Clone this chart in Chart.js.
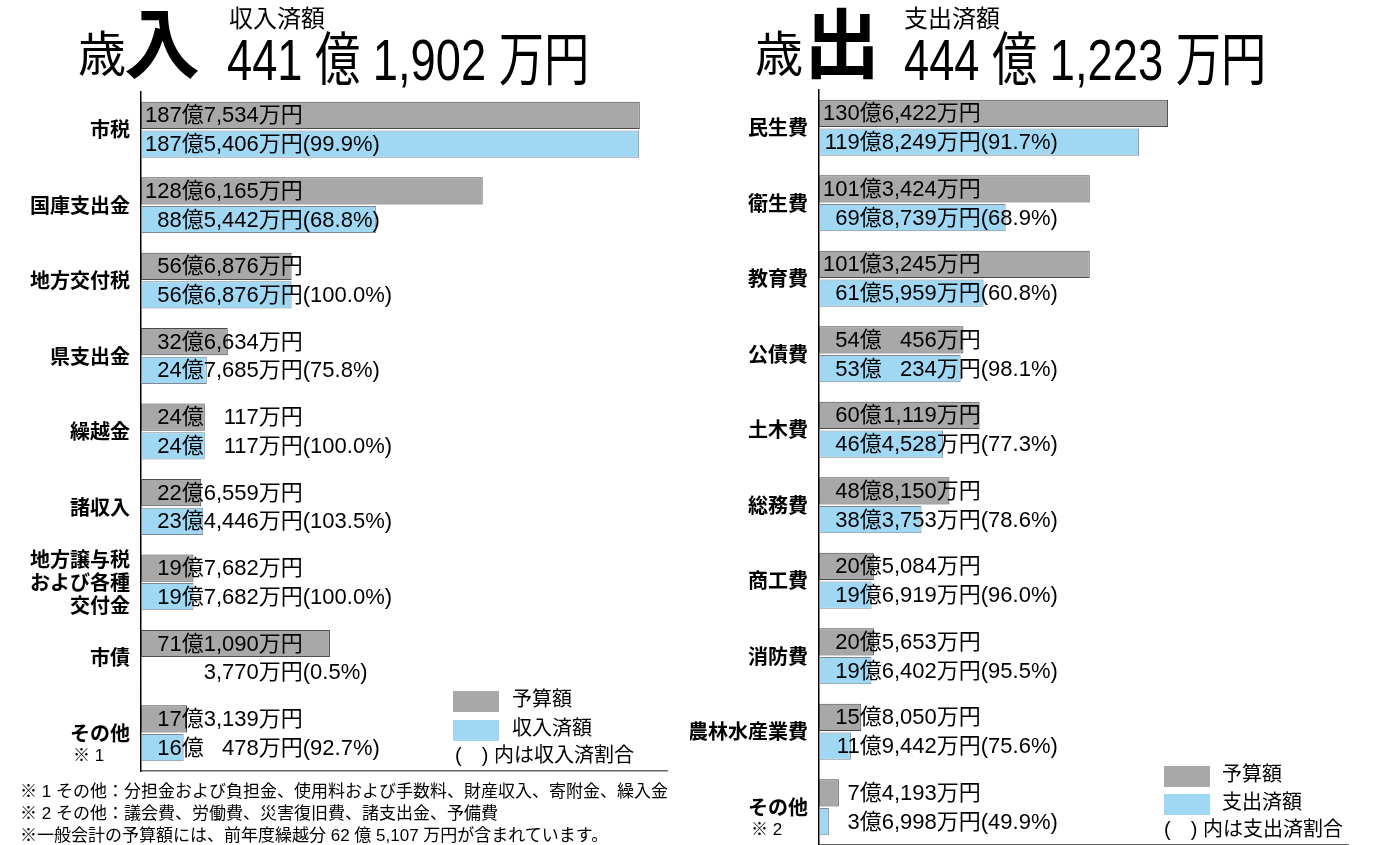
<!DOCTYPE html>
<html><head><meta charset="utf-8">
<script src="https://cdn.jsdelivr.net/npm/chart.js@4.4.0/dist/chart.umd.min.js"></script>
<style>
body{margin:0;background:#fff;}
#page{position:relative;width:1386px;height:845px;overflow:hidden;background:#fff;color:#000;
  font-family:"Liberation Sans","Noto Sans CJK JP",sans-serif;}
.t{position:absolute;white-space:nowrap;line-height:1;}
.sq{position:absolute;width:46px;height:21px;}
#wrapIn{position:absolute;left:0;top:0;width:690px;height:845px;}
#wrapOut{position:absolute;left:690px;top:0;width:696px;height:860px;}
</style></head>
<body>
<div id="page">
  <div id="wrapIn"><canvas id="inChart" width="690" height="845"></canvas></div>
  <div id="wrapOut"><canvas id="outChart" width="696" height="860"></canvas></div>

  <!-- titles -->
  <div class="t" style="left:78px;top:31px;font-size:48px;">歳</div>
  <div class="t" style="left:124px;top:8px;font-size:76px;font-weight:bold;">入</div>
  <div class="t" style="left:229px;top:7px;font-size:24px;">収入済額</div>
  <div class="t" style="left:227px;top:31px;font-size:58px;transform:scaleX(0.78);transform-origin:0 0;">441 億 1,902 万円</div>

  <div class="t" style="left:755px;top:31px;font-size:48px;">歳</div>
  <div class="t" style="left:804px;top:8px;font-size:76px;font-weight:bold;">出</div>
  <div class="t" style="left:904px;top:7px;font-size:24px;">支出済額</div>
  <div class="t" style="left:904px;top:31px;font-size:58px;transform:scaleX(0.78);transform-origin:0 0;">444 億 1,223 万円</div>

  <!-- legends -->
  <div class="sq" style="left:453px;top:691px;background:#a8a8a8;"></div>
  <div class="t" style="left:512px;top:689px;font-size:20px;">予算額</div>
  <div class="sq" style="left:453px;top:720px;background:#a0d8f4;"></div>
  <div class="t" style="left:512px;top:718px;font-size:20px;">収入済額</div>
  <div class="t" style="left:455px;top:745px;font-size:20px;">(　) 内は収入済割合</div>

  <div class="sq" style="left:1164px;top:766px;background:#a8a8a8;"></div>
  <div class="t" style="left:1222px;top:764px;font-size:20px;">予算額</div>
  <div class="sq" style="left:1164px;top:794px;background:#a0d8f4;"></div>
  <div class="t" style="left:1222px;top:792px;font-size:20px;">支出済額</div>
  <div class="t" style="left:1164px;top:819px;font-size:20px;">(　) 内は支出済割合</div>

  <!-- notes -->
  <div class="t" style="left:20px;top:783px;font-size:17px;">※ 1 その他：分担金および負担金、使用料および手数料、財産収入、寄附金、繰入金</div>
  <div class="t" style="left:20px;top:805px;font-size:17px;">※ 2 その他：議会費、労働費、災害復旧費、諸支出金、予備費</div>
  <div class="t" style="left:20px;top:827px;font-size:17px;">※一般会計の予算額には、前年度繰越分 62 億 5,107 万円が含まれています。</div>
</div>

<script>
// 歳入 (単位: 万円)
const inCategories = [['市税'], ['国庫支出金'], ['地方交付税'], ['県支出金'], ['繰越金'], ['諸収入'],
  ['地方譲与税', 'および各種', '交付金'], ['市債'], ['その他']];
const inNotes = ['', '', '', '', '', '', '', '', '※ 1'];
const inBudget = [1877534, 1286165, 566876, 326634, 240117, 226559, 197682, 711090, 173139];
const inReceived = [1875406, 885442, 566876, 247685, 240117, 234446, 197682, 3770, 160478];

// 歳出 (単位: 万円)
const outCategories = [['民生費'], ['衛生費'], ['教育費'], ['公債費'], ['土木費'], ['総務費'],
  ['商工費'], ['消防費'], ['農林水産業費'], ['その他']];
const outNotes = ['', '', '', '', '', '', '', '', '', '※ 2'];
const outBudget = [1306422, 1013424, 1013245, 540456, 601119, 488150, 205084, 205653, 158050, 74193];
const outSpent = [1198249, 698739, 615959, 530234, 464528, 383753, 196919, 196402, 119442, 36998];

const xMax = 1980000;
const GRAY = '#a8a8a8', BLUE = '#a0d8f4';
const NUM_FONT = '22px "Liberation Sans", "Noto Sans CJK JP"';

function pct(a, b) { return '(' + (a / b * 100).toFixed(1) + '%)'; }

// bar text: "187億7,534万円" with the 億 / 万 parts lined up like the print
const barText = {
  id: 'barText',
  afterDatasetsDraw(chart) {
    const ctx = chart.ctx;
    const x0 = chart.scales.x.getPixelForValue(0) + 4;
    const [budget, got] = chart.data.datasets.map(d => d.data);
    ctx.save();
    ctx.font = NUM_FONT;
    ctx.fillStyle = '#000';
    ctx.textBaseline = 'middle';
    const w1 = ctx.measureText('000億').width;
    const w2 = ctx.measureText('0,000').width;
    chart.data.datasets.forEach((ds, di) => {
      chart.getDatasetMeta(di).data.forEach((bar, i) => {
        const v = ds.data[i];
        const oku = Math.floor(v / 10000), man = v % 10000;
        const y = bar.y + 1;
        ctx.textAlign = 'right';
        if (oku) ctx.fillText(oku + '億', x0 + w1, y);
        ctx.fillText(man.toLocaleString('en-US'), x0 + w1 + w2, y);
        ctx.textAlign = 'left';
        ctx.fillText('万円' + (di === 1 ? pct(got[i], budget[i]) : ''), x0 + w1 + w2, y);
      });
    });
    ctx.restore();
  }
};

// category names at the left of the axis
const catText = {
  id: 'catText',
  afterDraw(chart, args, opts) {
    const ctx = chart.ctx, sy = chart.scales.y;
    const right = chart.chartArea.left - 11;
    ctx.save();
    ctx.textBaseline = 'middle';
    opts.names.forEach((lines, i) => {
      const c = sy.getPixelForValue(i);
      ctx.font = 'bold 20px "Noto Sans CJK JP"';
      ctx.textAlign = 'right';
      const top = c - (lines.length - 1) * 23 / 2;
      lines.forEach((s, k) => ctx.fillText(s, right, top + k * 23));
      if (opts.notes[i]) {
        const w = ctx.measureText(lines[0]).width;
        ctx.font = '17px "Liberation Sans", "Noto Sans CJK JP"';
        ctx.textAlign = 'left';
        ctx.fillText(opts.notes[i], right - w + 3, c + 23);
      }
    });
    ctx.restore();
  }
};

function makeChart(id, names, notes, a, b, axisW, pad) {
  return new Chart(document.getElementById(id), {
    type: 'bar',
    data: {
      labels: names.map(n => n.join('')),
      datasets: [
        { label: '予算額', data: a, backgroundColor: GRAY, borderColor: '#4a4a4a', borderWidth: 1, borderSkipped: false },
        { label: '済額', data: b, backgroundColor: BLUE, borderColor: '#7d8890', borderWidth: 1, borderSkipped: false }
      ]
    },
    options: {
      indexAxis: 'y',
      responsive: false,
      animation: false,
      categoryPercentage: 0.76,
      barPercentage: 0.95,
      layout: { padding: pad },
      plugins: {
        legend: { display: false },
        tooltip: { enabled: false },
        catText: { names: names, notes: notes }
      },
      scales: {
        x: {
          min: 0, max: xMax,
          ticks: { display: false },
          grid: { display: false, drawTicks: false },
          border: { display: true, color: '#666', width: 1.5 }
        },
        y: {
          ticks: { display: false },
          grid: { display: false, drawTicks: false },
          border: { display: true, color: '#000', width: 1.5 },
          afterFit(s) { s.width = axisW; }
        }
      }
    },
    plugins: [barText, catText]
  });
}

makeChart('inChart', inCategories, inNotes, inBudget, inReceived, 141,
  { top: 92, bottom: 74, left: 0, right: 23 });
makeChart('outChart', outCategories, outNotes, outBudget, outSpent, 129,
  { top: 90, bottom: 15, left: 0, right: 38 });
</script>
</body></html>
